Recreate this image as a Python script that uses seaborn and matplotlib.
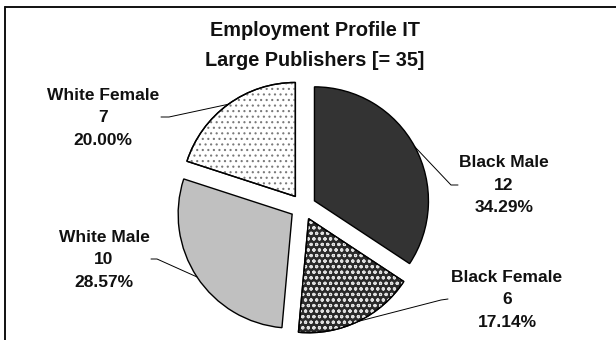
import numpy as np
import matplotlib
matplotlib.use("Agg")
import matplotlib.pyplot as plt
from matplotlib.patches import Wedge
from matplotlib.lines import Line2D
import seaborn as sns

# Data
categories = ["Black Male", "Black Female", "White Male", "White Female"]
counts = [12, 6, 10, 7]
title_lines = ["Employment Profile IT", "Large Publishers [= 35]"]

# Styling per slice
fill_colors = ["#333333", "#2a2a2a", "#c0c0c0", "#ffffff"]
hatch_patterns = [None, "ooo", None, "..."]
hatch_colors = [None, "#e0e0e0", None, "#7a7a7a"]

# Label placement (pixel coords from the top-left of the figure)
label_pos = [(504, 185), (507, 300), (104, 260), (103, 118)]
elbow_pos = [(451, 185), (441, 300), (157, 259), (169, 117)]
end_pos = [(458, 185), (448, 299), (151, 259), (161, 117)]

W, H = 616, 340
sns.set_theme(style="white")
plt.rcParams["font.family"] = ["Liberation Sans", "DejaVu Sans"]
plt.rcParams["hatch.linewidth"] = 0.8

fig = plt.figure(figsize=(W / 100, H / 100), dpi=100)
fig.patch.set_facecolor("white")
ax = fig.add_axes([0, 0, 1, 1])


def py(y):
    """Convert a top-down pixel row to data y."""
    return H - y


total = sum(counts)
wedges, _ = ax.pie(
    counts,
    startangle=90,
    counterclock=False,
    explode=[13] * len(counts),
    radius=114,
    center=(303, py(207)),
    colors=fill_colors,
    wedgeprops=dict(edgecolor="black", linewidth=1.0),
)

# Pattern fills laid over the plain wedges, then the outlines on top
for w, hp, hc in zip(wedges, hatch_patterns, hatch_colors):
    if hp:
        ax.add_patch(Wedge(w.center, w.r, w.theta1, w.theta2,
                           facecolor="none", edgecolor=hc, linewidth=0,
                           hatch=hp, zorder=w.get_zorder() + 0.1))
        ax.add_patch(Wedge(w.center, w.r, w.theta1, w.theta2,
                           facecolor="none", edgecolor="black", linewidth=1.0,
                           zorder=w.get_zorder() + 0.2))

ax.set_xlim(0, W)
ax.set_ylim(0, H)
ax.set_axis_off()

# Leader lines and labels
for w, name, n, lp, ep, tp in zip(wedges, categories, counts,
                                  label_pos, elbow_pos, end_pos):
    mid = np.deg2rad((w.theta1 + w.theta2) / 2)
    ax0 = w.center[0] + w.r * np.cos(mid)
    ay0 = w.center[1] + w.r * np.sin(mid)
    ax.plot([ax0, ep[0], tp[0]], [ay0, py(ep[1]), py(tp[1])],
            color="black", linewidth=0.7, zorder=5)
    ax.text(lp[0], py(lp[1]), f"{name}\n{n}\n{n / total * 100:.2f}%",
            ha="center", va="center", fontsize=12.5, fontweight="bold",
            linespacing=1.65, color="#111111", zorder=6)

# Title
ax.text(315, py(45.5), "\n".join(title_lines), ha="center", va="center",
        fontsize=14.3, fontweight="bold", linespacing=1.68, color="#111111")

# Chart-area border (top and left edges)
fig.add_artist(Line2D([5 / W, 1], [1 - 6.5 / H, 1 - 6.5 / H],
                      color="#111111", linewidth=1.4))
fig.add_artist(Line2D([5 / W, 5 / W], [0, 1 - 6.5 / H],
                      color="#111111", linewidth=1.4))

fig.savefig("out.png", dpi=100, facecolor="white")
